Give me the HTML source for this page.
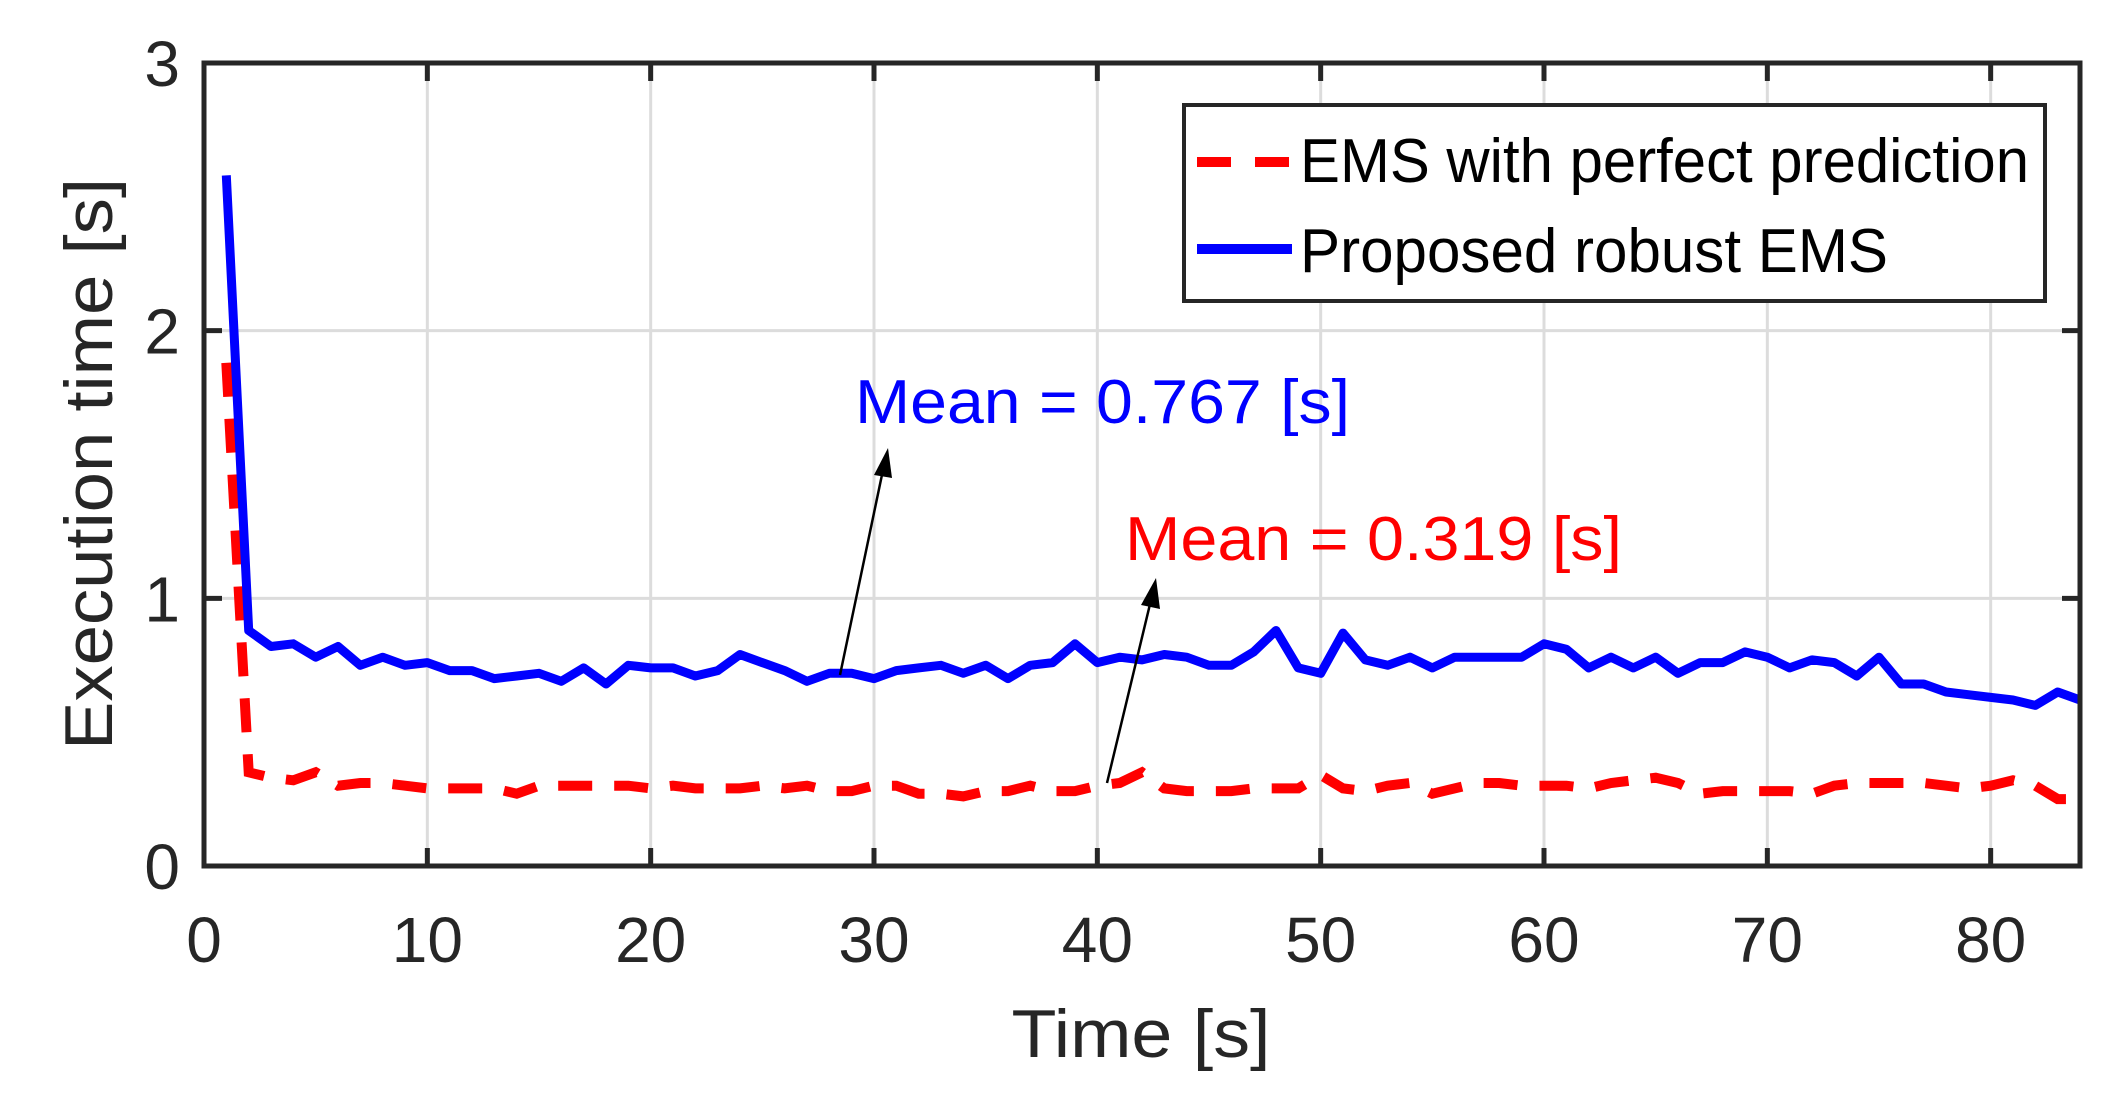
<!DOCTYPE html>
<html><head><meta charset="utf-8"><style>html,body{margin:0;padding:0;background:#fff}svg{display:block}</style></head>
<body>
<svg id="s" width="2117" height="1114" viewBox="0 0 2117 1114" xmlns="http://www.w3.org/2000/svg" font-family="Liberation Sans, Arial, sans-serif">
<rect width="2117" height="1114" fill="#fff"/>
<g id="grid" stroke="#dcdcdc" stroke-width="3"></g>
<g id="ticks" stroke="#262626" stroke-width="5"></g>
<g id="lab" fill="#262626" font-size="64"></g>
<path id="red" fill="none" stroke="#ff0000" stroke-width="10" stroke-dasharray="34,22"/>
<path id="blue" fill="none" stroke="#0000ff" stroke-width="9" stroke-linejoin="round"/>
<rect x="204" y="63" width="1876" height="803" fill="none" stroke="#262626" stroke-width="5"/>
<text x="1141" y="1057" font-size="68" fill="#262626" text-anchor="middle" textLength="259" lengthAdjust="spacingAndGlyphs">Time [s]</text>
<text transform="translate(112,464) rotate(-90)" font-size="68" fill="#262626" text-anchor="middle" textLength="572" lengthAdjust="spacingAndGlyphs">Execution time [s]</text>
<text x="855" y="423" font-size="62" fill="#0000ff" textLength="495" lengthAdjust="spacingAndGlyphs">Mean = 0.767 [s]</text>
<text x="1125" y="560" font-size="62" fill="#ff0000" textLength="497" lengthAdjust="spacingAndGlyphs">Mean = 0.319 [s]</text>
<line x1="840" y1="675" x2="883" y2="470" stroke="#000" stroke-width="2.5"/>
<polygon points="888,448 874,475 892,478" fill="#000"/>
<line x1="1107" y1="783" x2="1151" y2="600" stroke="#000" stroke-width="2.5"/>
<polygon points="1156,578 1141,605 1160,609" fill="#000"/>
<rect x="1184" y="105" width="861" height="196" fill="#fff" stroke="#262626" stroke-width="4"/>
<line x1="1197" y1="162" x2="1290" y2="162" stroke="#ff0000" stroke-width="10" stroke-dasharray="34,24"/>
<line x1="1197" y1="249" x2="1292" y2="249" stroke="#0000ff" stroke-width="10"/>
<text x="1300" y="182" font-size="62" fill="#000" textLength="729" lengthAdjust="spacingAndGlyphs">EMS with perfect prediction</text>
<text x="1300" y="272" font-size="62" fill="#000" textLength="588" lengthAdjust="spacingAndGlyphs">Proposed robust EMS</text>
</svg>
<script>
var X=function(t){return 204+t*1876/84},Y=function(v){return 866-v*803/3};
var g=document.getElementById('grid'),tk=document.getElementById('ticks'),lb=document.getElementById('lab'),ns='http://www.w3.org/2000/svg';
function el(p,n,a,txt){var e=document.createElementNS(ns,n);for(var k in a)e.setAttribute(k,a[k]);if(txt!=null)e.textContent=txt;p.appendChild(e);}
for(var t=0;t<=80;t+=10){var x=X(t);if(t>0){el(g,'line',{x1:x,y1:63,x2:x,y2:866});}
el(tk,'line',{x1:x,y1:866,x2:x,y2:848});el(tk,'line',{x1:x,y1:63,x2:x,y2:81});
el(lb,'text',{x:x,y:962,'text-anchor':'middle'},String(t));}
for(var v=0;v<=3;v++){var y=Y(v);if(v>0&&v<3)el(g,'line',{x1:204,y1:y,x2:2080,y2:y});
el(tk,'line',{x1:204,y1:y,x2:222,y2:y});el(tk,'line',{x1:2080,y1:y,x2:2062,y2:y});
el(lb,'text',{x:180,y:y+23,'text-anchor':'end'},String(v));}
var b=[2.58,0.88,0.82,0.83,0.78,0.82,0.75,0.78,0.75,0.76,0.73,0.73,0.70,0.71,0.72,0.69,0.74,0.68,0.75,0.74,0.74,0.71,0.73,0.79,0.76,0.73,0.69,0.72,0.72,0.70,0.73,0.74,0.75,0.72,0.75,0.70,0.75,0.76,0.83,0.76,0.78,0.77,0.79,0.78,0.75,0.75,0.80,0.88,0.74,0.72,0.87,0.77,0.75,0.78,0.74,0.78,0.78,0.78,0.78,0.83,0.81,0.74,0.78,0.74,0.78,0.72,0.76,0.76,0.80,0.78,0.74,0.77,0.76,0.71,0.78,0.68,0.68,0.65,0.64,0.63,0.62,0.60,0.65,0.62];
var r=[1.88,0.35,0.33,0.32,0.35,0.30,0.31,0.31,0.30,0.29,0.29,0.29,0.29,0.27,0.30,0.30,0.30,0.30,0.30,0.29,0.30,0.29,0.29,0.29,0.30,0.29,0.30,0.28,0.28,0.30,0.30,0.27,0.27,0.26,0.28,0.28,0.30,0.28,0.28,0.30,0.31,0.35,0.29,0.28,0.28,0.28,0.29,0.29,0.29,0.34,0.29,0.28,0.30,0.31,0.27,0.29,0.31,0.31,0.30,0.30,0.30,0.29,0.31,0.32,0.33,0.31,0.27,0.28,0.28,0.28,0.28,0.27,0.30,0.31,0.31,0.31,0.31,0.30,0.29,0.30,0.32,0.30,0.25,0.25];
function P(a){return a.map(function(v,i){return (i?'L':'M')+X(i+1).toFixed(1)+','+Y(v).toFixed(1);}).join('');}
document.getElementById('blue').setAttribute('d',P(b));document.getElementById('red').setAttribute('d',P(r));
</script>
</body></html>
